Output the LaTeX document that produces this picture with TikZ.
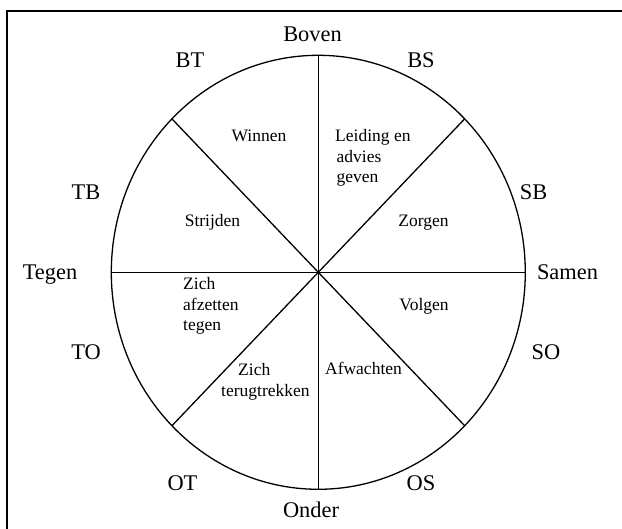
\documentclass[tikz,border=0pt]{standalone}
\usepackage{fontspec}
\setmainfont{Liberation Serif}
\usetikzlibrary{calc}
\begin{document}
\begin{tikzpicture}[x=1pt,y=-1pt,
  lab/.style={inner sep=0pt,anchor=base,font=\fontsize{22.4}{24}\selectfont},
  txt/.style={inner sep=0pt,anchor=base,font=\fontsize{17.5}{20.5}\selectfont},
  txtl/.style={inner sep=0pt,anchor=base west,align=left,font=\fontsize{17.5}{20.5}\selectfont},
  seg/.style={line width=1.3pt},
  frame/.style={line width=2pt}]
\useasboundingbox (0,0) rectangle (622,529);
% frame
\coordinate (fbl) at (7,529);
\coordinate (ftl) at (7,11);
\coordinate (ftr) at (622,11);
\draw[frame] (fbl) -- (ftl) -- (ftr);
% ellipse and spokes
\coordinate (c) at (318.3,272.3);
\draw[seg] (c) ellipse [x radius=207, y radius=217];
\foreach \a/\n in {0/e,45/ne,90/n,135/nw,180/w,225/sw,270/s,315/se}
  \coordinate (p\n) at ($(c)+({207*cos(\a)},{-217*sin(\a)})$);
\draw[seg] (pn) -- (ps);
\draw[seg] (pw) -- (pe);
\draw[seg] (pne) -- (psw);
\draw[seg] (pnw) -- (pse);
% outer labels
\node[lab] (boven) at (312.5,42) {Boven};
\node[lab] (bt) at (190,68) {BT};
\node[lab] (bs) at (421,68) {BS};
\node[lab] (sb) at (533.5,200) {SB};
\node[lab] (samen) at (567.5,280) {Samen};
\node[lab] (so) at (546,360) {SO};
\node[lab] (os) at (421,491) {OS};
\node[lab] (onder) at (311,518) {Onder};
\node[lab] (ot) at (182.5,491) {OT};
\node[lab] (to) at (86,360) {TO};
\node[lab] (tegen) at (50,280) {Tegen};
\node[lab] (tb) at (86,200) {TB};
% inner texts (base anchor = baseline of last line)
\node[txt] (winnen) at (259,141.7) {Winnen};
\node[txtl] (leiding) at (335,183) {Leiding en\\\hspace*{1.5pt}advies\\\hspace*{1.5pt}geven};
\node[txt] (zorgen) at (423.5,227) {Zorgen};
\node[txt] (strijden) at (212.5,227) {Strijden};
\node[txtl] (afzetten) at (183,331) {Zich\\afzetten\\tegen};
\node[txt] (volgen) at (424,310.7) {Volgen};
\node[txtl] (terug) at (221,397) {\hspace*{17pt}Zich\\[1pt]terugtrekken};
\node[txt] (afwachten) at (363.5,375) {Afwachten};
\end{tikzpicture}
\end{document}
